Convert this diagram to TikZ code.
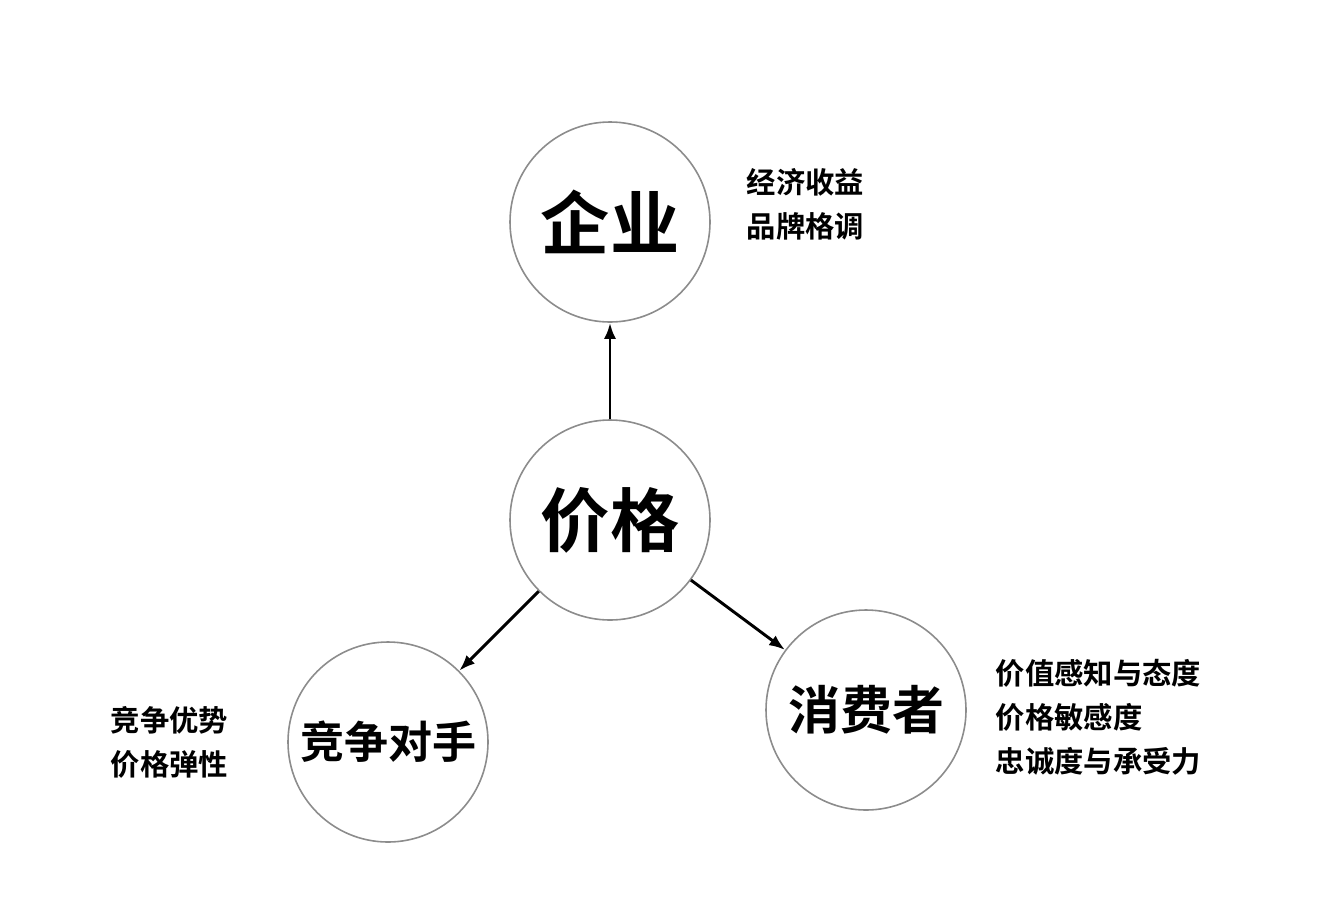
\documentclass[tikz,border=0pt]{standalone}
\usepackage{fontspec}
\newfontfamily\cjk{Noto Sans CJK SC Bold}
\begin{document}
\begin{tikzpicture}[x=0.75pt,y=-0.75pt,
  circ/.style={circle,draw=black!45,line width=1.2pt,minimum size=150pt,inner sep=0pt,font=\cjk},
  arr/.style={-{Latex[length=12pt,width=9pt]},line width=2.2pt},
  side/.style={anchor=west,align=left,font=\cjk\fontsize{22}{33}\selectfont}]
\usetikzlibrary{arrows.meta}
\useasboundingbox (0,0) rectangle (1326,922);
\node[circ,font=\cjk\fontsize{52}{60}\selectfont] (qy) at (610,222) {企业};
\node[circ,font=\cjk\fontsize{52}{60}\selectfont] (jg) at (610,520) {价格};
\node[circ,font=\cjk\fontsize{33}{40}\selectfont] (jz) at (388,742) {竞争对手};
\node[circ,font=\cjk\fontsize{39}{46}\selectfont] (xf) at (866,710) {消费者};
\draw[arr] (jg) -- (qy);
\draw[arr] (jg) -- (jz);
\draw[arr] (jg) -- (xf);
\node[side] (t1) at (742,204) {经济收益\\品牌格调};
\node[side] (t2) at (106,742) {竞争优势\\价格弹性};
\node[side] (t3) at (991,717) {价值感知与态度\\价格敏感度\\忠诚度与承受力};
\end{tikzpicture}
\end{document}
